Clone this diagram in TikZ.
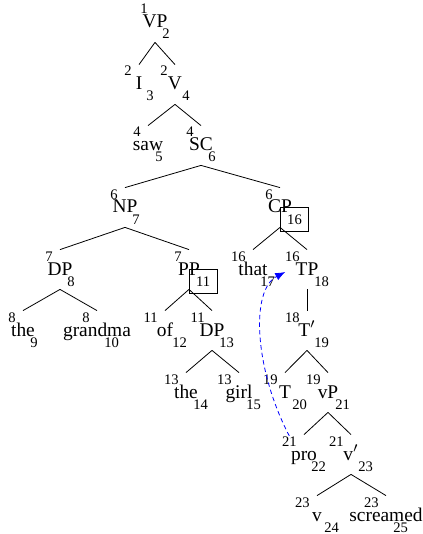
\documentclass[tikz,border=0pt]{standalone}
\usepackage{fontspec}
\setmainfont{Liberation Serif}
\usetikzlibrary{arrows.meta}

\tikzset{
  cat/.style={anchor=base, inner sep=0pt, text height=12.5pt, text depth=7pt,
    font=\fontsize{9.7}{11}\selectfont},
  idx/.style={inner sep=0pt, font=\fontsize{7.3}{8}\selectfont},
  idxbox/.style={idx, draw, inner xsep=3.4pt, inner ysep=3.6pt,
    text height=4.8pt, text depth=0pt, xshift=-3.5pt},
  move/.style={blue, dash pattern=on 2.2pt off 1.6pt,
    -{Latex[length=5pt,width=4pt]}}
}

% category with its upper and lower index
\newcommand{\tnode}[6][idx]{%
  \node[cat] (#2) at (#3) {#4};
  \node[idx, anchor=base east] (#2-u) at ([xshift=-3.5pt,yshift=7pt]#2.base) {#5};
  \node[#1, anchor=base west] (#2-d) at ([xshift=3.5pt,yshift=-5.5pt]#2.base) {#6};}

\begin{document}
\begin{tikzpicture}[x=0.5pt, y=-0.5pt]
    \useasboundingbox (0,0) rectangle (422,534);

    % --- nodes ---
    \tnode{VP}{155,28}{VP}{1}{2}
    \tnode{I}{139,90}{I}{2}{3}
    \tnode{V}{175,90}{V}{2}{4}
    \tnode{saw}{148,151}{saw}{4}{5}
    \tnode{SC}{201,151}{SC}{4}{6}
    \tnode{NP}{125,213}{NP}{6}{7}
    \tnode[idxbox]{CP}{280,213}{CP}{6}{16}
    \tnode{DPa}{60,275}{DP}{7}{8}
    \tnode[idxbox]{PP}{189,275}{PP}{7}{11}
    \tnode{that}{253,275}{that}{16}{17}
    \tnode{TP}{307,275}{TP}{16}{18}
    \tnode{thea}{23,336}{the}{8}{9}
    \tnode{grandma}{97,336}{grandma}{8}{10}
    \tnode{of}{165,336}{of}{11}{12}
    \tnode{DPb}{212,336}{DP}{11}{13}
    \tnode{Tbar}{307,336}{T$'$}{18}{19}
    \tnode{theb}{186,398}{the}{13}{14}
    \tnode{girl}{239,398}{girl}{13}{15}
    \tnode{T}{285,398}{T}{19}{20}
    \tnode{vP}{328,398}{vP}{19}{21}
    \tnode{pro}{304,460}{pro}{21}{22}
    \tnode{vbar}{351,460}{v$'$}{21}{23}
    \tnode{v}{317,521}{v}{23}{24}
    \tnode{screamed}{386,521}{screamed}{23}{25}

    % --- branches ---
    \foreach \p/\c in {VP/I, VP/V, V/saw, V/SC, SC/NP, SC/CP, NP/DPa, NP/PP,
        DPa/thea, DPa/grandma, PP/of, PP/DPb, DPb/theb, DPb/girl, CP/that,
        CP/TP, TP/Tbar, Tbar/T, Tbar/vP, vP/pro, vP/vbar, vbar/v, vbar/screamed}
        \draw (\p.south) -- (\c.north);

    % movement of pro
    \draw[move] (pro-u.north) .. controls +(-35,-67) and +(-35,18) ..
        ([xshift=-5pt,yshift=1.5pt]TP.base west);
\end{tikzpicture}
\end{document}
